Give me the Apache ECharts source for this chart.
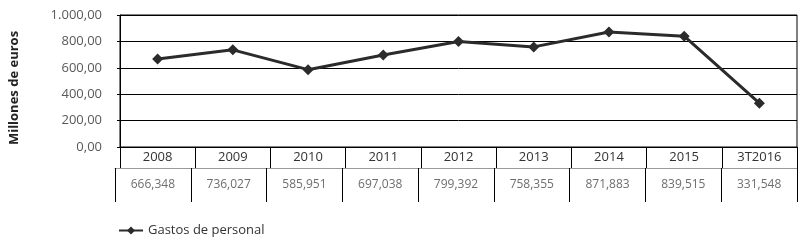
<!DOCTYPE html>
<html>
<head>
<meta charset="utf-8">
<script src="https://cdn.jsdelivr.net/npm/echarts@6/dist/echarts.min.js"></script>
<style>
  html, body { margin: 0; padding: 0; background: #fff; }
  #chart { width: 804px; height: 245px; }
</style>
</head>
<body>
<div id="chart"></div>
<script>
// datos del gráfico
var years = ['2008', '2009', '2010', '2011', '2012', '2013', '2014', '2015', '3T2016'];
var gastosPersonal = [666.348, 736.027, 585.951, 697.038, 799.392, 758.355, 871.883, 839.515, 331.548];
var yTicks = { min: 0, max: 1000, interval: 200 };

// formato español: miles con punto, decimales con coma
function fmtEs(v, dec) {
  var parts = v.toFixed(dec).split('.');
  parts[0] = parts[0].replace(/\B(?=(\d{3})+(?!\d))/g, '.');
  return parts.join(',');
}

var chartDom = document.getElementById('chart');
var myChart = echarts.init(chartDom);

var font = 'Open Sans';

var option = {
  animation: false,
  textStyle: { fontFamily: font },
  legend: {
    left: 113,
    top: 219,
    itemWidth: 24,
    itemHeight: 10,
    itemGap: 10,
    textStyle: { color: '#333', fontSize: 13, fontFamily: font },
    data: ['Gastos de personal']
  },
  grid: [
    { left: 115, right: 7, top: 15, height: 132, show: true, borderColor: '#000', borderWidth: 1 },
    // grid auxiliar: su eje inferior hace de línea separadora de la tabla
    { left: 115, right: 7, top: 150, height: 18 }
  ],
  xAxis: [
    {
      gridIndex: 0,
      type: 'category',
      data: years,
      boundaryGap: true,
      axisLine: { lineStyle: { color: '#000', width: 1 } },
      axisTick: { show: true, length: 21, interval: 0, lineStyle: { color: '#000' } },
      axisLabel: { color: '#333', fontSize: 13, margin: 4, interval: 0, fontFamily: font }
    },
    {
      gridIndex: 1,
      type: 'category',
      position: 'bottom',
      data: gastosPersonal.map(function (v) { return fmtEs(v, 3); }),
      boundaryGap: true,
      axisLine: { lineStyle: { color: '#9a9a9a', width: 1 } },
      axisTick: { show: true, length: 34, interval: 0, lineStyle: { color: '#000' } },
      axisLabel: { color: '#6e6e6e', fontSize: 12, margin: 11, interval: 0, fontFamily: font }
    }
  ],
  yAxis: [
    {
      gridIndex: 0,
      type: 'value',
      min: yTicks.min,
      max: yTicks.max,
      interval: yTicks.interval,
      name: 'Millones de euros',
      nameLocation: 'middle',
      nameRotate: 90,
      nameGap: 99,
      nameTextStyle: { color: '#222', fontSize: 13, fontWeight: 'bold', fontFamily: font, padding: [0, 14, 0, 0] },
      axisLine: { show: true, lineStyle: { color: '#000', width: 1 } },
      axisTick: { show: true, length: 3, lineStyle: { color: '#000' } },
      splitLine: { show: true, lineStyle: { color: '#000', width: 1 } },
      axisLabel: { color: '#595959', fontSize: 13, margin: 18, fontFamily: font,
        formatter: function (v) { return fmtEs(v, 2); } }
    },
    { gridIndex: 1, type: 'value', show: false }
  ],
  series: [
    {
      name: 'Gastos de personal',
      type: 'line',
      xAxisIndex: 0,
      yAxisIndex: 0,
      data: gastosPersonal,
      symbol: 'diamond',
      symbolSize: 11,
      showAllSymbol: true,
      lineStyle: { color: '#2b2b2b', width: 3 },
      itemStyle: { color: '#2b2b2b' }
    }
  ]
};

myChart.setOption(option);

window.addEventListener('resize', function () {
  myChart.resize();
});
</script>
</body>
</html>
